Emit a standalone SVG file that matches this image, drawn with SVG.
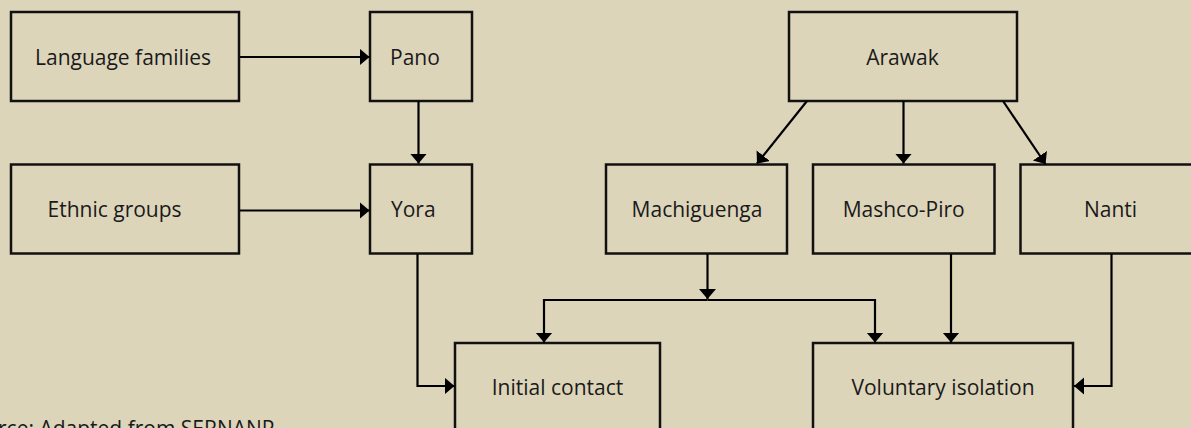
<svg xmlns="http://www.w3.org/2000/svg" width="1191" height="428" viewBox="0 0 1191 428">
<style>
.box{fill:#DDD5BA;stroke:#111;stroke-width:2.5}
.lbl{font-family:"Open Sans","Liberation Sans",sans-serif;font-size:21px;fill:#1a1a1a}
.c{text-anchor:middle}
.ln{fill:none;stroke:#000;stroke-width:2.2;marker-end:url(#ah)}
</style>
<defs>
<marker id="ah" markerUnits="userSpaceOnUse" markerWidth="11" markerHeight="18" refX="10" refY="8.5" orient="auto">
<path d="M0,0 L10,8.5 L0,17 z" fill="#000"/>
</marker>
</defs>
<rect x="0" y="0" width="1191" height="428" fill="#DDD5BA"/>
<g id="n-language"><rect class="box" x="11" y="12" width="228" height="89"/><text class="lbl" x="35" y="65">Language families</text></g>
<g id="n-pano"><rect class="box" x="370" y="12" width="102" height="89"/><text class="lbl" x="390" y="65">Pano</text></g>
<g id="n-ethnic"><rect class="box" x="11" y="164.5" width="228" height="89"/><text class="lbl" x="47.5" y="217">Ethnic groups</text></g>
<g id="n-yora"><rect class="box" x="370" y="164.5" width="102" height="89"/><text class="lbl" x="391" y="217">Yora</text></g>
<g id="n-arawak"><rect class="box" x="789" y="12" width="228" height="89"/><text class="lbl c" x="902.5" y="65">Arawak</text></g>
<g id="n-machiguenga"><rect class="box" x="606" y="164.5" width="181" height="89"/><text class="lbl c" x="697" y="217">Machiguenga</text></g>
<g id="n-mashco"><rect class="box" x="813" y="164.5" width="181.5" height="89"/><text class="lbl c" x="903.7" y="217">Mashco-Piro</text></g>
<g id="n-nanti"><rect class="box" x="1020.5" y="164.5" width="181" height="89"/><text class="lbl c" x="1110.5" y="217">Nanti</text></g>
<g id="n-initial"><rect class="box" x="455" y="343" width="205" height="100"/><text class="lbl c" x="557.5" y="395">Initial contact</text></g>
<g id="n-voluntary"><rect class="box" x="813" y="343" width="260" height="100"/><text class="lbl c" x="943" y="395">Voluntary isolation</text></g>
<g id="connectors">
<path class="ln" d="M240,57 H369.5"/>
<path class="ln" d="M240,210.5 H369.5"/>
<path class="ln" d="M418.5,101 V163.5"/>
<path class="ln" d="M417.5,254 V386 H454.5"/>
<path class="ln" d="M807,101 L757,163.5"/>
<path class="ln" d="M903.5,101 V163.5"/>
<path class="ln" d="M1003,101 L1045.5,164"/>
<path class="ln" d="M707.5,254 V299"/>
<path class="ln" d="M707.5,300 H544 V342.5"/>
<path class="ln" d="M707.5,300 H875 V342.5"/>
<path class="ln" d="M951,254 V342.5"/>
<path class="ln" d="M1111.5,254 V386 H1074"/>
</g>
<text class="lbl" x="-2" y="436">rce: Adapted from SERNANP</text>
</svg>
